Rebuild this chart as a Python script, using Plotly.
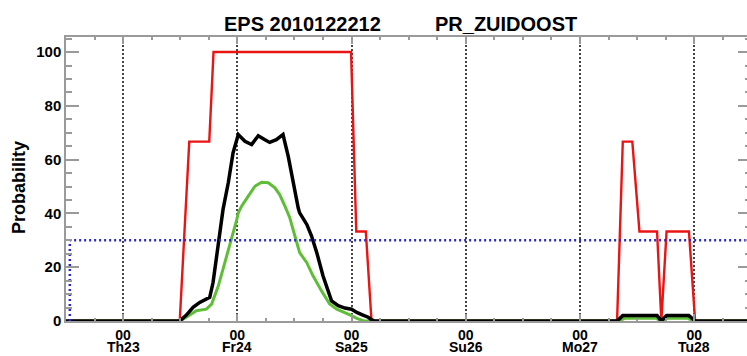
import pandas as pd
import plotly.graph_objects as go

# Forecast run and region
run_time = "2010122212"
region = "PR_ZUIDOOST"
base = pd.Timestamp("2010-12-22 12:00")

# Lead times (hours after the run) and probabilities (%)
red_h = [0, 23.9, 25.9, 30.1, 31.0, 59.9, 61.0, 63.0, 64.2, 115.8, 117.0, 119.0,
         120.5, 124.2, 125.1, 126.2, 130.9, 132.2, 144]
red_v = [0, 0, 66.7, 66.7, 100, 100, 33.3, 33.3, 0, 0, 66.7, 66.7,
         33.3, 33.3, 0, 33.3, 33.3, 0, 0]

black_h = [0, 23.9, 25.3, 26.7, 28.1, 29.5, 30.2, 30.9, 31.6, 32.2,
           32.7, 33.0, 34.1, 35.1, 36.2, 37.6, 39.0, 40.4, 41.8, 42.8,
           44.2, 45.6, 46.7, 47.7, 48.8, 49.1, 50.6, 51.6, 52.7, 54.0,
           55.1, 55.8, 57.2, 58.6, 60.0, 61.1, 62.4, 63.5, 64.2, 64.9,
           115.8, 117.0, 124.2, 125.1, 126.2, 130.9, 132.2, 144]
black_v = [0, 0, 2.2, 5.1, 6.9, 8.1, 8.8, 14.3, 23, 31.6,
           39, 41.5, 51.4, 62.5, 69.3, 66.8, 65.6, 68.9, 67.4, 66.4,
           67.4, 69.3, 61.2, 51.4, 42, 40.2, 35.9, 31.6, 25.4, 16.8,
           10.6, 7.5, 5.7, 4.8, 4.4, 3.2, 2.2, 1.4, 0.5, 0,
           0, 2, 2, 0, 2, 2, 0, 0]

green_h = [0, 24.1, 24.6, 27.4, 29.5, 30.6, 32.0, 33.4, 34.8, 35.8,
           36.2, 36.9, 38.3, 39.7, 41.1, 42.5, 43.9, 44.9, 46.0, 47.0,
           48.1, 49.1, 50.6, 51.9, 53.7, 55.4, 56.9, 58.6, 60.0, 61.1,
           62.1, 62.6, 116.2, 117.4, 124.0, 125.0, 126.4, 130.7, 131.8, 144]
green_v = [0, 0, 0.7, 3.8, 4.4, 6.3, 13, 21.7, 30.4, 37.1,
           40.2, 42.7, 46.4, 50.1, 51.6, 51.4, 49.5, 47, 42.7, 38.5,
           31.6, 25.4, 21.7, 16.8, 11.2, 6.3, 4.4, 3.2, 2.0, 1.0,
           0.3, 0, 0, 1, 1, 0, 1, 1, 0, 0]

# Threshold marker (30 %)
thr_h = [0.8, 0.8, 144]
thr_v = [0, 30, 30]

# Day ticks
day_h = [12, 36, 60, 84, 108, 132]
hour_labels = ["00", "00", "00", "00", "00", "00"]
day_labels = ["Th23", "Fr24", "Sa25", "Su26", "Mo27", "Tu28"]

y_ticks = [0, 20, 40, 60, 80, 100]


def to_time(hours):
    return [base + pd.Timedelta(hours=h) for h in hours]


W, H = 747, 356
ML, MR, MT, MB = 66, 0, 37, 35
PW, PH = W - ML - MR, H - MT - MB


def px(xp):
    return (xp - ML) / PW


def py(yp):
    return (H - MB - yp) / PH


FONT = "Liberation Sans, Arial, sans-serif"
AXC = "#9a9a9a"

fig = go.Figure()
fig.add_trace(go.Scatter(x=to_time(red_h), y=red_v, mode="lines",
                         line=dict(color="rgb(235,20,20)", width=2.4)))
fig.add_trace(go.Scatter(x=to_time(green_h), y=green_v, mode="lines",
                         line=dict(color="rgb(95,190,55)", width=3)))
fig.add_trace(go.Scatter(x=to_time(black_h), y=black_v, mode="lines",
                         line=dict(color="black", width=3.5)))
fig.add_trace(go.Scatter(x=to_time(thr_h), y=thr_v, mode="lines",
                         line=dict(color="rgb(40,40,200)", width=2.5, dash="2px,3px")))
# carrier for the right-hand tick axis
fig.add_trace(go.Scatter(x=to_time([0]), y=[0], yaxis="y2", mode="markers",
                         marker=dict(opacity=0), hoverinfo="skip"))

fig.update_layout(
    width=W, height=H,
    margin=dict(l=ML, r=MR, t=MT, b=MB),
    paper_bgcolor="white", plot_bgcolor="white",
    showlegend=False,
    font=dict(family=FONT, color="black", size=15, weight="bold"),
    xaxis=dict(
        type="date",
        range=[base, base + pd.Timedelta(hours=143.1)],
        tickmode="array",
        tickvals=to_time(day_h), ticktext=hour_labels,
        ticks="inside", ticklen=7, tickcolor=AXC, tickwidth=1.5,
        showline=True, linecolor=AXC, linewidth=1.5, mirror="ticks",
        showgrid=True, gridcolor="#444", gridwidth=1.5, griddash="2px,2px",
        minor=dict(dtick=6 * 3600 * 1000, tick0=base, ticks="inside",
                   ticklen=3, tickcolor=AXC, tickwidth=1.5, showgrid=False),
        tickfont=dict(size=14, family=FONT, weight="bold"),
        ticklabelstandoff=0,
        zeroline=False,
    ),
    yaxis=dict(
        range=[0, 105.6],
        tickmode="array", tickvals=y_ticks,
        ticks="inside", ticklen=13, tickcolor=AXC, tickwidth=1.5,
        minor=dict(dtick=5, ticks="inside", ticklen=6, tickcolor=AXC,
                   tickwidth=1.5, showgrid=False),
        showline=True, linecolor=AXC, linewidth=1.5,
        showgrid=False, zeroline=False,
        tickfont=dict(size=15, family=FONT, weight="bold"),
    ),
    yaxis2=dict(
        overlaying="y", side="right", range=[0, 105.6],
        tickmode="array", tickvals=y_ticks, showticklabels=False,
        ticks="inside", ticklen=9, tickcolor=AXC, tickwidth=1.5,
        minor=dict(dtick=5, ticks="inside", ticklen=2, tickcolor=AXC,
                   tickwidth=1.5, showgrid=False),
        showline=False, showgrid=False, zeroline=False,
    ),
)

annotations = [
    dict(text="EPS " + run_time, x=px(222), y=py(24), xanchor="left", yanchor="middle",
         font=dict(size=20, family=FONT, weight="bold")),
    dict(text=region, x=px(433), y=py(24), xanchor="left", yanchor="middle",
         font=dict(size=20, family=FONT, weight="bold")),
    dict(text="Probability", x=px(19), y=py(188), textangle=-90,
         xanchor="center", yanchor="middle",
         font=dict(size=18, family=FONT, weight="bold")),
]
for h, lab in zip(day_h, day_labels):
    annotations.append(dict(text=lab, x=base + pd.Timedelta(hours=h), xref="x",
                            y=py(356), yanchor="bottom", xanchor="center",
                            borderpad=0,
                            font=dict(size=14, family=FONT, weight="bold")))
for a in annotations:
    a.setdefault("xref", "paper")
    a.setdefault("yref", "paper")
    a["showarrow"] = False
fig.update_layout(annotations=annotations)

fig.write_html("out.html")
